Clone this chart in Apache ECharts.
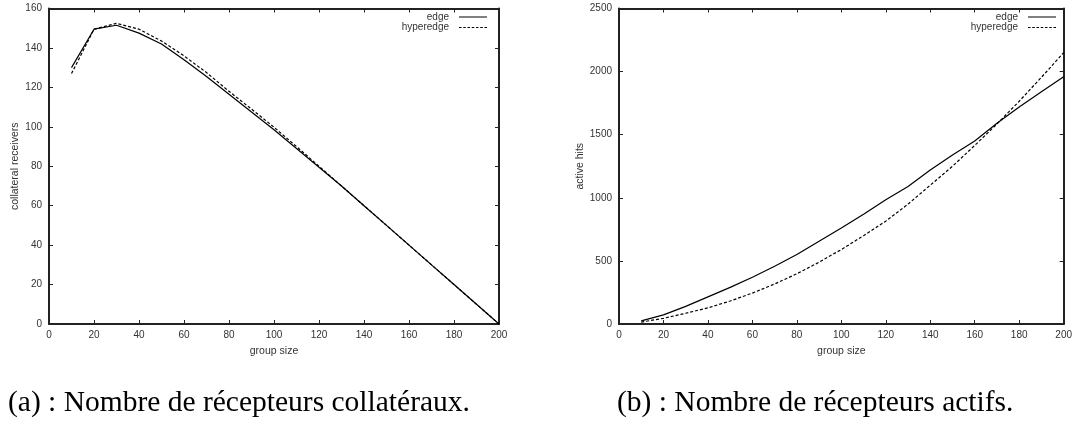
<!DOCTYPE html>
<html>
<head>
<meta charset="utf-8">
<script src="https://cdn.jsdelivr.net/npm/echarts@6/dist/echarts.min.js"></script>
<style>
html,body{margin:0;padding:0;background:#fff;}
#chart{width:1075px;height:429px;}
</style>
</head>
<body>
<div id="chart"></div>
<script>
var groupSize = [10,20,30,40,50,60,70,80,90,100,110,120,130,140,150,160,170,180,190,200];
var collEdge = [130,149.5,151.5,147.5,142,134,125.5,116.5,107.5,98.5,89,79.5,70,60,50,40,30,20,10,0];
var collHyper = [127,149.5,152.5,149.5,143.5,136,127.5,118,109,99.8,90,80,70,60,50,40,30,20,10,0];
var activeEdge = [25,72,140,215,290,370,458,550,655,760,870,985,1090,1220,1340,1450,1590,1720,1840,1960];
var activeHyper = [15,45,85,128,182,245,317,398,490,590,700,815,950,1100,1250,1415,1585,1765,1955,2150];
var seriesNames = ['edge','hyperedge'];
var captions = ['(a) : Nombre de récepteurs collatéraux.', '(b) : Nombre de récepteurs actifs.'];
var xName = 'group size';
var yNames = ['collateral receivers','active hits'];

function pairs(xs, ys){ return xs.map(function(x,i){return [x, ys[i]];}); }

var frameColor = '#222';
var sans = 'Liberation Sans, Arial, sans-serif';
var serif = 'Liberation Serif, Times New Roman, serif';
var lbl = {color:'#333', fontSize:10, fontFamily:sans, formatter:function(v){return String(v);}};
var solidIcon = 'path://M0,0h28v1h-28z';
var dashIcon = 'path://M0,0h2.5v1h-2.5z M4.25,0h2.5v1h-2.5z M8.5,0h2.5v1h-2.5z M12.75,0h2.5v1h-2.5z M17,0h2.5v1h-2.5z M21.25,0h2.5v1h-2.5z M25.5,0h2.5v1h-2.5z';

function mainX(gi){
  return {type:'value', gridIndex:gi, min:0, max:200, interval:20, position:'bottom',
    name:xName, nameLocation:'middle', nameGap:22, nameTextStyle:{color:'#333',fontSize:10.5,fontFamily:sans},
    axisLine:{show:true, onZero:false, lineStyle:{color:frameColor,width:2}},
    axisTick:{show:true, inside:true, length:4, lineStyle:{color:frameColor,width:1}},
    axisLabel:Object.assign({margin:6}, lbl), splitLine:{show:false}};
}
function topX(gi){
  return {type:'value', gridIndex:gi, min:0, max:200, interval:20, position:'top',
    axisLine:{show:true, onZero:false, lineStyle:{color:frameColor,width:2}},
    axisTick:{show:true, inside:true, length:4, lineStyle:{color:frameColor,width:1}},
    axisLabel:{show:false}, splitLine:{show:false}};
}
function mainY(gi, max, interval, name, gap){
  return {type:'value', gridIndex:gi, min:0, max:max, interval:interval, position:'left',
    name:name, nameLocation:'middle', nameGap:gap, nameTextStyle:{color:'#333',fontSize:10.5,fontFamily:sans},
    axisLine:{show:true, onZero:false, lineStyle:{color:frameColor,width:2}},
    axisTick:{show:true, inside:true, length:4, lineStyle:{color:frameColor,width:1}},
    axisLabel:Object.assign({margin:7}, lbl), splitLine:{show:false}};
}
function rightY(gi, max, interval){
  return {type:'value', gridIndex:gi, min:0, max:max, interval:interval, position:'right',
    axisLine:{show:true, onZero:false, lineStyle:{color:frameColor,width:2}},
    axisTick:{show:true, inside:true, length:4, lineStyle:{color:frameColor,width:1}},
    axisLabel:{show:false}, splitLine:{show:false}};
}
function line(name, xi, yi, data, dashed){
  return {type:'line', name:name, xAxisIndex:xi, yAxisIndex:yi, data:data,
    symbol:'none', smooth:false, animation:false,
    lineStyle:{color:'#000', width:1.2, type: dashed ? [3,2] : 'solid'},
    itemStyle:{color:'#000'}};
}
function legend(rightPx){
  return {right:rightPx, top:12, orient:'vertical', align:'right', itemWidth:28, itemHeight:8, itemGap:0.5,
    padding:0,
    textStyle:{color:'#333',fontSize:10,fontFamily:sans,padding:[0,5,0,0]},
    data:[{name:seriesNames[0], icon:solidIcon},{name:seriesNames[1], icon:dashIcon}]};
}

var chart = echarts.init(document.getElementById('chart'), null, {renderer:'canvas'});
chart.setOption({
  animation:false,
  backgroundColor:'#fff',
  grid:[
    {left:49, right:576, top:8.5, bottom:105},
    {left:619, right:11, top:8.5, bottom:105}
  ],
  xAxis:[mainX(0), mainX(1), topX(0), topX(1)],
  yAxis:[mainY(0,160,20,yNames[0],28), mainY(1,2500,500,yNames[1],33), rightY(0,160,20), rightY(1,2500,500)],
  legend:[legend(1075-487), legend(1075-1056)],
  graphic:[
    {type:'text', x:8, y:403, style:{text:captions[0], fontFamily:serif, fontSize:29.5, fill:'#000', verticalAlign:'middle'}},
    {type:'text', x:617, y:403, style:{text:captions[1], fontFamily:serif, fontSize:29.5, fill:'#000', verticalAlign:'middle'}}
  ],
  series:[
    line(seriesNames[0],0,0,pairs(groupSize,collEdge),false),
    line(seriesNames[1],0,0,pairs(groupSize,collHyper),true),
    line(seriesNames[0],1,1,pairs(groupSize,activeEdge),false),
    line(seriesNames[1],1,1,pairs(groupSize,activeHyper),true)
  ]
});
</script>
</body>
</html>
